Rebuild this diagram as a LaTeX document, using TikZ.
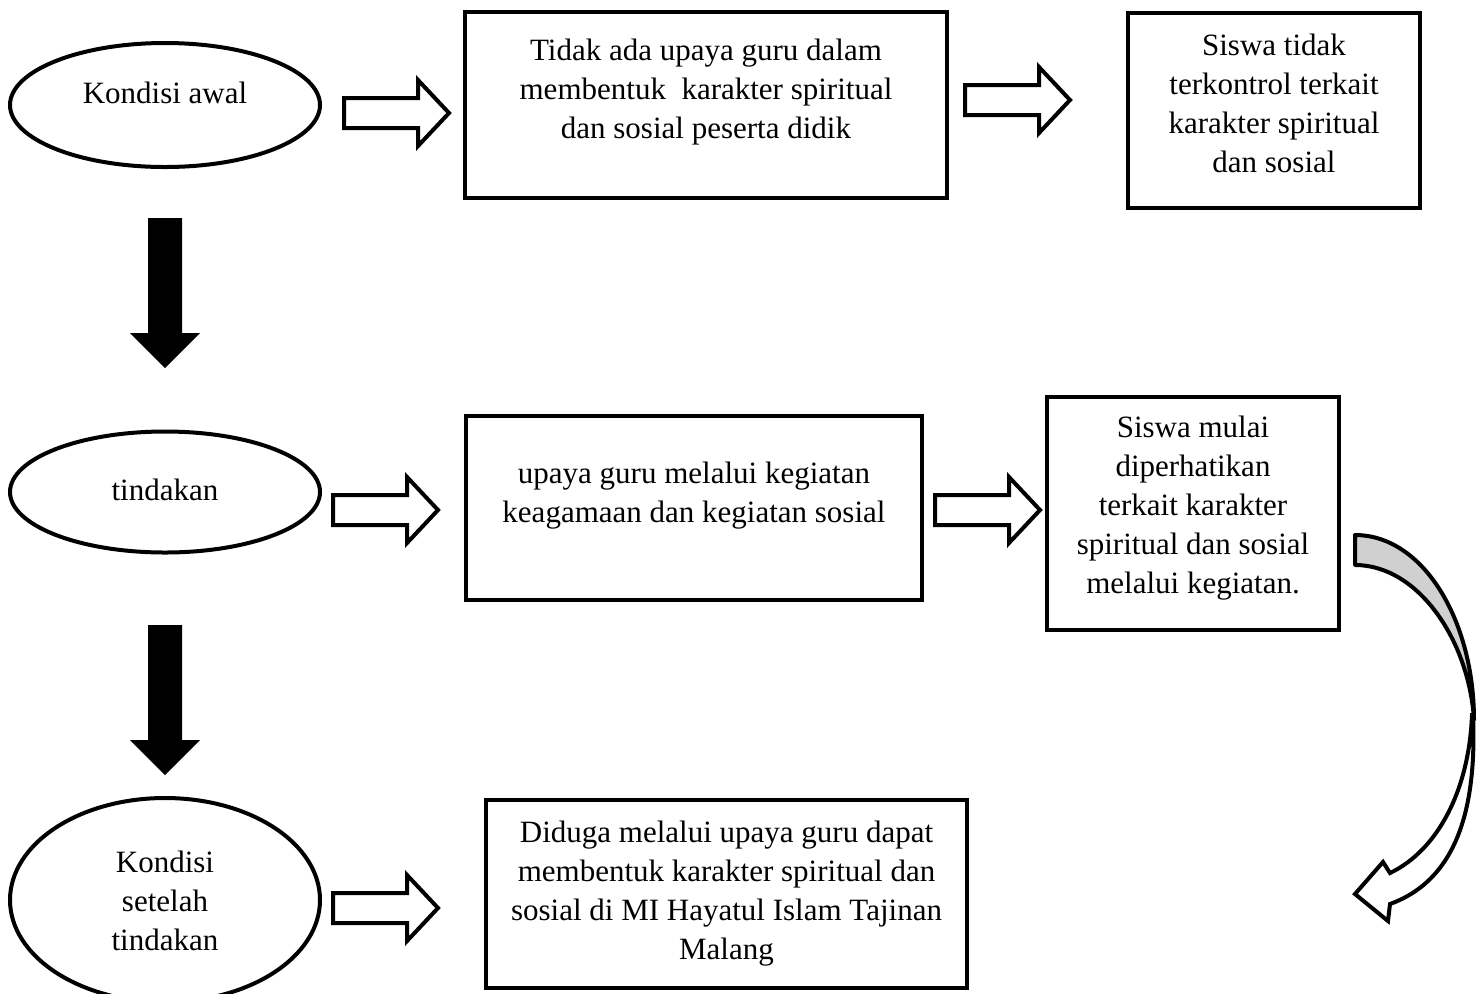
\documentclass[tikz,border=0pt]{standalone}
\usepackage{fontspec}
\setmainfont{Liberation Serif}
\usetikzlibrary{shapes.geometric}
\definecolor{bandgray}{RGB}{208,208,208}
\tikzset{
  boxnode/.style={draw, line width=2pt, rectangle, inner sep=0pt},
  ellnode/.style={draw, line width=2pt, ellipse, inner sep=0pt, minimum width=155pt},
  txt/.style={align=center, inner sep=0pt, font=\fontsize{15.5}{19.5}\selectfont},
  hollowarrow/.pic={\draw[line width=2pt, line join=miter, fill=white]
     (0,-15) -- (74,-15) -- (74,-33) -- (105,0) -- (74,33) -- (74,15) -- (0,15) -- cycle;},
  blackarrow/.pic={\fill[black]
     (-17,0) -- (-17,115) -- (-35,115) -- (0,150) -- (35,115) -- (17,115) -- (17,0) -- cycle;}
}
\begin{document}
\begin{tikzpicture}[x=0.5pt,y=-0.5pt]
\useasboundingbox (0,0) rectangle (1480,993);
% ellipses
\node[ellnode, minimum height=62pt] (e1) at (165,105) {};
\node[txt] (e1t) at (165,92.5) {Kondisi awal};
\node[ellnode, minimum height=60.5pt] (e2) at (165,492) {};
\node[txt] (e2t) at (165,490) {tindakan};
\node[ellnode, minimum height=102pt] (e3) at (165,900) {};
\node[txt] (e3t) at (165,900.5) {Kondisi\\setelah\\tindakan};
% boxes
\node[boxnode, minimum width=241pt, minimum height=93pt] (b1) at (706,105) {};
\node[txt] (b1t) at (706,92) {Tidak ada upaya guru dalam\\membentuk\ \ karakter spiritual\\dan sosial peserta didik};
\node[boxnode, minimum width=146pt, minimum height=97.5pt] (b2) at (1274,110.5) {};
\node[txt] (b2t) at (1274,103.5) {Siswa tidak\\terkontrol terkait\\karakter spiritual\\dan sosial};
\node[boxnode, minimum width=228pt, minimum height=92pt] (b3) at (694,508) {};
\node[txt] (b3t) at (694,495.5) {upaya guru melalui kegiatan\\keagamaan dan kegiatan sosial};
\node[boxnode, minimum width=146pt, minimum height=116.5pt] (b4) at (1193,513.5) {};
\node[txt] (b4t) at (1193,508) {Siswa mulai\\diperhatikan\\terkait karakter\\spiritual dan sosial\\melalui kegiatan.};
\node[boxnode, minimum width=240.5pt, minimum height=94pt] (b5) at (726.5,894) {};
\node[txt] (b5t) at (726.5,894) {Diduga melalui upaya guru dapat\\membentuk karakter spiritual dan\\sosial di MI Hayatul Islam Tajinan\\Malang};
% hollow block arrows
\pic (a1) at (344,113) {hollowarrow};
\pic (a2) at (965,100) {hollowarrow};
\pic (a3) at (333,510) {hollowarrow};
\pic (a4) at (935,510) {hollowarrow};
\pic (a5) at (333,908) {hollowarrow};
% black down arrows
\pic (d1) at (165,218) {blackarrow};
\pic (d2) at (165,625) {blackarrow};
% curved arrow
\draw[line width=2pt, line join=round, fill=bandgray]
  (1355,535) .. controls (1423,535) and (1474,620) .. (1474,720)
  .. controls (1469,640) and (1418,565) .. (1355,565) -- cycle;
\draw[line width=2pt, line join=miter, fill=white]
  (1473,715) .. controls (1477,810) and (1456,880) .. (1390,904)
  -- (1388,921) -- (1355,894) -- (1383,862) -- (1390,873)
  .. controls (1438,850) and (1469,790) .. (1472,715) -- cycle;
\end{tikzpicture}
\end{document}
